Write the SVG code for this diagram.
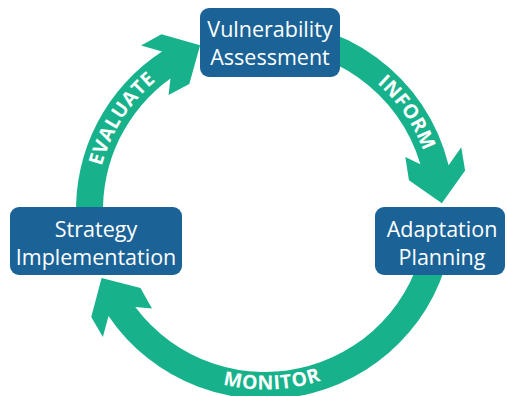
<svg xmlns="http://www.w3.org/2000/svg" width="507" height="396" viewBox="0 0 507 396">
<defs>
<style>
.arrow{fill:#17b28b;stroke:none}
.lbl{fill:#ffffff;font-family:"Open Sans","Liberation Sans",sans-serif;font-weight:bold;font-size:19.5px;letter-spacing:0.6px}
.box{fill:#1b6397}
.txt{fill:#ffffff;font-family:"Open Sans","Liberation Sans",sans-serif;font-size:21.5px;text-anchor:middle}
</style>
<path id="pEval" d="M 96.16,202.63 A 168.5 168.5 0 0 1 186.96,60.10"/>
<path id="pInform" d="M 338.02,57.59 A 168.5 168.5 0 0 1 433.50,197.03"/>
<path id="pMonitor" d="M 168.02,361.64 A 182 182 0 0 0 374.33,352.99"/>
</defs>
<rect width="507" height="396" fill="#ffffff"/>
<g id="connectors">
<path class="arrow" d="M 76.12,216.60 A 189 189 0 0 1 162.06,51.49 L 141.03,45.48 L 161.46,34.23 L 200.13,45.32 L 189.29,84.00 L 168.58,95.09 L 170.44,78.46 A 162 162 0 0 0 103.10,215.65 Z"/>
<path class="arrow" d="M 251.82,21.46 A 189 189 0 0 1 448.62,165.24 L 461.25,147.37 L 465.11,170.38 L 441.87,203.21 L 408.95,180.19 L 405.32,156.98 L 420.41,164.26 A 162 162 0 0 0 253.70,48.39 Z"/>
<path class="arrow" d="M 453.28,226.47 A 189 189 0 0 1 108.49,315.96 L 102.89,337.11 L 91.25,316.90 L 101.59,278.02 L 140.47,288.12 L 151.97,308.61 L 135.28,307.04 A 162 162 0 0 0 426.38,224.12 Z"/>
<text class="lbl"><textPath href="#pEval" startOffset="50%" text-anchor="middle">EVALUATE</textPath></text>
<text class="lbl"><textPath href="#pInform" startOffset="50%" text-anchor="middle">INFORM</textPath></text>
<text class="lbl"><textPath href="#pMonitor" startOffset="50%" text-anchor="middle">MONITOR</textPath></text>
</g>
<g id="vulnerability-assessment">
<rect class="box" x="200" y="8" width="140" height="69" rx="9"/>
<text class="txt" x="270" y="37">Vulnerability</text>
<text class="txt" x="270" y="65">Assessment</text>
</g>
<g id="adaptation-planning">
<rect class="box" x="375" y="207" width="130" height="68" rx="9"/>
<text class="txt" x="442" y="237">Adaptation</text>
<text class="txt" x="442" y="265">Planning</text>
</g>
<g id="strategy-implementation">
<rect class="box" x="10" y="207" width="172" height="68" rx="9"/>
<text class="txt" x="96" y="237">Strategy</text>
<text class="txt" x="96" y="265">Implementation</text>
</g>
</svg>
